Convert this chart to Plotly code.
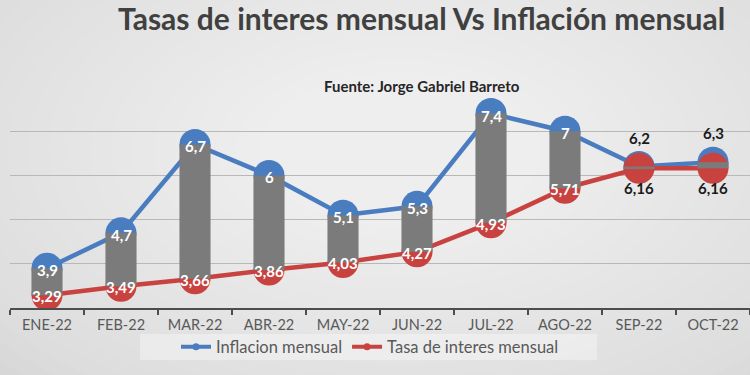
import plotly.graph_objects as go

months = ["ENE-22", "FEB-22", "MAR-22", "ABR-22", "MAY-22", "JUN-22",
          "JUL-22", "AGO-22", "SEP-22", "OCT-22"]
inflacion = [3.9, 4.7, 6.7, 6.0, 5.1, 5.3, 7.4, 7.0, 6.2, 6.3]
tasa = [3.29, 3.49, 3.66, 3.86, 4.03, 4.27, 4.93, 5.71, 6.16, 6.16]
y_ticks = [4, 5, 6, 7]

BLUE = "#4a7cc0"
RED = "#c8423f"
GRAY_BAR = "#7b7b7b"
FONT = "Lato"

W, H = 750, 375
ML, MR, MT, MB = 10, 0, 87, 67
PW, PH = W - ML - MR, H - MT - MB


def fmt(v):
    return f"{v:g}".replace(".", ",")


fig = go.Figure()

# lines + markers (bottom layer)
fig.add_trace(go.Scatter(
    x=months, y=inflacion, mode="lines+markers", name="Inflacion mensual",
    line=dict(color=BLUE, width=4.5), marker=dict(size=31, color=BLUE),
    showlegend=False, hoverinfo="skip"))
fig.add_trace(go.Scatter(
    x=months, y=tasa, mode="lines+markers", name="Tasa de interes mensual",
    line=dict(color=RED, width=4.5), marker=dict(size=31, color=RED),
    showlegend=False, hoverinfo="skip"))

# high-low bars on overlay axis (drawn above circles)
fig.add_trace(go.Bar(
    x=months, y=[i - t for i, t in zip(inflacion, tasa)], base=tasa,
    width=0.42, marker=dict(color=GRAY_BAR, line=dict(width=0)),
    xaxis="x2", yaxis="y2", showlegend=False, hoverinfo="skip"))

# legend-only entries
fig.add_trace(go.Scatter(
    x=[None], y=[None], mode="lines+markers", name="Inflacion mensual",
    line=dict(color=BLUE, width=4), marker=dict(size=7, color=BLUE)))
fig.add_trace(go.Scatter(
    x=[None], y=[None], mode="lines+markers", name="Tasa de interes mensual",
    line=dict(color=RED, width=4), marker=dict(size=7, color=RED)))

# data labels
ann = []
n = len(months)
for k, (m, i, t) in enumerate(zip(months, inflacion, tasa)):
    overlap = k >= n - 2
    if overlap:
        ann.append(dict(x=m, y=i, text=f"<b>{fmt(i)}</b>", showarrow=False,
                        yshift=29, font=dict(family=FONT, size=15, color="#1a1a1a")))
        ann.append(dict(x=m, y=t, text=f"<b>{fmt(t)}</b>", showarrow=False,
                        yshift=-20, font=dict(family=FONT, size=15, color="#1a1a1a")))
    else:
        ann.append(dict(x=m, y=i, text=f"<b>{fmt(i)}</b>", showarrow=False,
                        yshift=-2, font=dict(family=FONT, size=15, color="white")))
        ann.append(dict(x=m, y=t, text=f"<b>{fmt(t)}</b>", showarrow=False,
                        yshift=-1, font=dict(family=FONT, size=15, color="white")))
for a in ann:
    a["xref"] = "x"
    a["yref"] = "y"

# titles
ann.append(dict(text="<b>Tasas de interes mensual Vs Inflación mensual</b>",
                xref="paper", yref="paper",
                x=(421 - ML) / PW, y=(H - MB - 18) / PH,
                xanchor="center", yanchor="middle", showarrow=False,
                font=dict(family=FONT, size=30, color="#404040")))
ann.append(dict(text="<b>Fuente: Jorge Gabriel Barreto</b>",
                xref="paper", yref="paper",
                x=(422 - ML) / PW, y=(H - MB - 86) / PH,
                xanchor="center", yanchor="middle", showarrow=False,
                font=dict(family=FONT, size=15, color="#262626")))

# background radial-like gradient (stacked translucent ellipses)
shapes = []
cx, cy = 400, 150
steps = 24
for s in range(steps):
    rx = 580 - s * (500 / steps)
    ry = 340 - s * (300 / steps)
    x0 = (cx - rx - ML) / PW
    x1 = (cx + rx - ML) / PW
    y0 = (H - MB - (cy + ry)) / PH
    y1 = (H - MB - (cy - ry)) / PH
    shapes.append(dict(type="circle", xref="paper", yref="paper",
                       x0=x0, x1=x1, y0=y0, y1=y1, layer="below",
                       fillcolor="rgba(255,255,255,0.055)", line=dict(width=0)))
# legend background box
shapes.append(dict(type="rect", xref="paper", yref="paper",
                   x0=(140 - ML) / PW, x1=(597 - ML) / PW,
                   y0=-(360 - (H - MB)) / PH, y1=-(334 - (H - MB)) / PH,
                   layer="below", fillcolor="rgba(255,255,255,0.35)",
                   line=dict(width=0)))

fig.update_layout(
    width=W, height=H,
    margin=dict(l=ML, r=MR, t=MT, b=MB),
    paper_bgcolor="#d3d3d3",
    plot_bgcolor="rgba(0,0,0,0)",
    font=dict(family=FONT, color="#595959"),
    annotations=ann,
    shapes=shapes,
    barmode="overlay",
    xaxis=dict(type="category", categoryorder="array", categoryarray=months,
               range=[-0.5, n - 0.5], showline=True, linecolor="#4d4d4d",
               linewidth=2, ticks="outside", ticklen=5, tickwidth=1.5,
               tickcolor="#4d4d4d", tickson="boundaries", showgrid=False,
               tickfont=dict(family=FONT, size=14.5, color="#595959"),
               ticklabelstandoff=3, fixedrange=True),
    yaxis=dict(range=[3, 8], tickvals=y_ticks, showticklabels=False,
               showgrid=True, gridcolor="#b8b8b8", gridwidth=1.2,
               zeroline=False, showline=False, fixedrange=True),
    xaxis2=dict(type="category", categoryorder="array", categoryarray=months,
                range=[-0.5, n - 0.5], overlaying="x", visible=False),
    yaxis2=dict(range=[3, 8], overlaying="y", visible=False),
    legend=dict(orientation="h", x=(370 - ML) / PW, y=-(347 - (H - MB)) / PH,
                xanchor="center", yanchor="middle", bgcolor="rgba(0,0,0,0)",
                font=dict(family=FONT, size=16.5, color="#595959"),
                itemwidth=30, tracegroupgap=0),
    showlegend=True,
)

fig.write_html(
    "out.html",
    config={"displayModeBar": False},
    post_script="document.body.style.margin='0';document.body.style.overflow='hidden';",
)
